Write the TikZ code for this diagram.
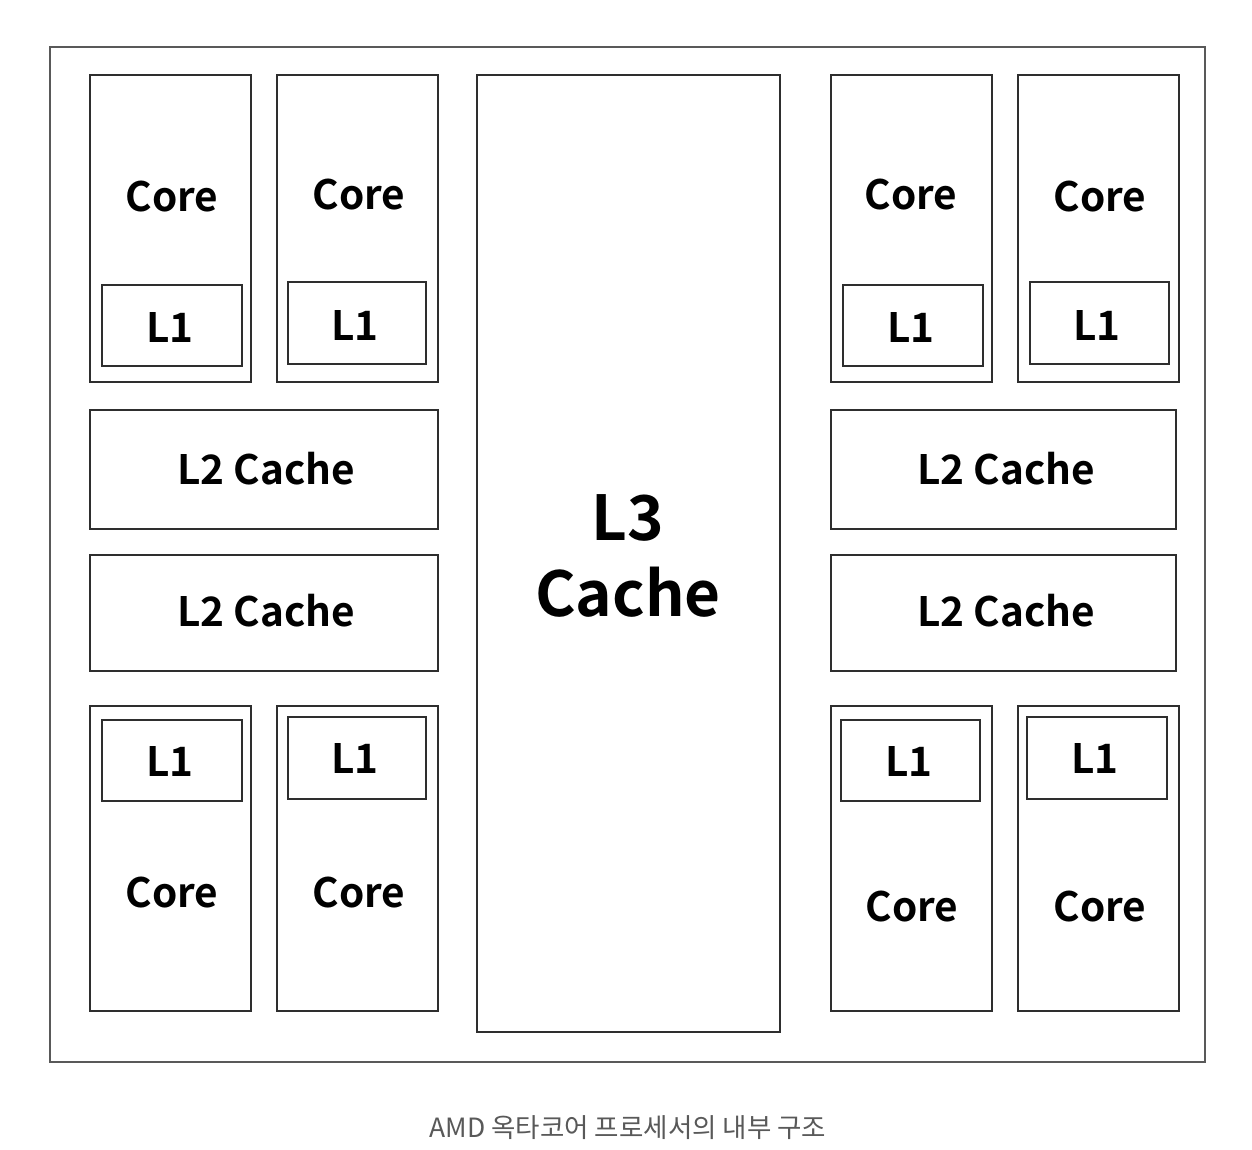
\documentclass[tikz,border=0pt]{standalone}
\usepackage{fontspec}
\setmainfont{Noto Sans CJK KR}
\newfontfamily\lblfont{Noto Sans CJK KR}[BoldFont={* Bold}]
\begin{document}
\begin{tikzpicture}[x=1pt,y=-1pt,
  box/.style={draw=black!82, line width=2pt, inner sep=0pt, outer sep=0pt, anchor=north west},
  lbl/.style={font=\lblfont\bfseries\fontsize{40.5}{42}\selectfont, inner sep=0pt},
  big/.style={font=\lblfont\bfseries\fontsize{62}{76}\selectfont, inner sep=0pt, align=center}]
\useasboundingbox (0,0) rectangle (1252,1150);
\fill[white] (0,0) rectangle (1252,1150);
% box from (x1,y1) to (x2,y2)
\newcommand\chipbox[5]{\node[box, minimum width={(#3-#1)*1pt}, minimum height={(#4-#2)*1pt}] (#5) at (#1,#2) {};}
% die outline
\node[box, draw=black!65, minimum width=1155pt, minimum height=1015pt] (die) at (50,47) {};
% upper-left cores
\chipbox{90}{75}{251}{382}{c1}
\chipbox{102}{285}{242}{366}{c1l}
\chipbox{277}{75}{438}{382}{c2}
\chipbox{288}{282}{426}{364}{c2l}
% left L2 blocks
\chipbox{90}{410}{438}{529}{l2a}
\chipbox{90}{555}{438}{671}{l2b}
% lower-left cores
\chipbox{90}{706}{251}{1011}{c3}
\chipbox{102}{720}{242}{801}{c3l}
\chipbox{277}{706}{438}{1011}{c4}
\chipbox{288}{717}{426}{799}{c4l}
% shared L3
\chipbox{477}{75}{780}{1032}{l3}
% upper-right cores
\chipbox{831}{75}{992}{382}{c5}
\chipbox{843}{285}{983}{366}{c5l}
\chipbox{1018}{75}{1179}{382}{c6}
\chipbox{1030}{282}{1169}{364}{c6l}
% right L2 blocks
\chipbox{831}{410}{1176}{529}{l2c}
\chipbox{831}{555}{1176}{671}{l2d}
% lower-right cores
\chipbox{831}{706}{992}{1011}{c7}
\chipbox{841}{720}{980}{801}{c7l}
\chipbox{1018}{706}{1179}{1011}{c8}
\chipbox{1027}{717}{1167}{799}{c8l}
% labels
\node[lbl] (t1) at (172,197) {Core};
\node[lbl] (t2) at (359,195) {Core};
\node[lbl] (t1l) at (170,327) {L1};
\node[lbl] (t2l) at (355,325) {L1};
\node[lbl] (tl2a) at (266,469) {L2 Cache};
\node[lbl] (tl2b) at (266,611) {L2 Cache};
\node[lbl] (t3l) at (170,761) {L1};
\node[lbl] (t4l) at (355,758) {L1};
\node[lbl] (t3) at (172,893) {Core};
\node[lbl] (t4) at (359,893) {Core};
\node[big] (tl3) at (628,556) {L3\\Cache};
\node[lbl] (t5) at (911,195) {Core};
\node[lbl] (t6) at (1100,197) {Core};
\node[lbl] (t5l) at (911,327) {L1};
\node[lbl] (t6l) at (1097,325) {L1};
\node[lbl] (tl2c) at (1006,469) {L2 Cache};
\node[lbl] (tl2d) at (1006,611) {L2 Cache};
\node[lbl] (t7l) at (909,761) {L1};
\node[lbl] (t8l) at (1095,758) {L1};
\node[lbl] (t7) at (912,907) {Core};
\node[lbl] (t8) at (1100,907) {Core};
% caption
\node[font=\fontsize{26.5}{28}\selectfont, text=black!65, inner sep=0pt] (cap) at (628,1128) {AMD 옥타코어 프로세서의 내부 구조};
\end{tikzpicture}
\end{document}
